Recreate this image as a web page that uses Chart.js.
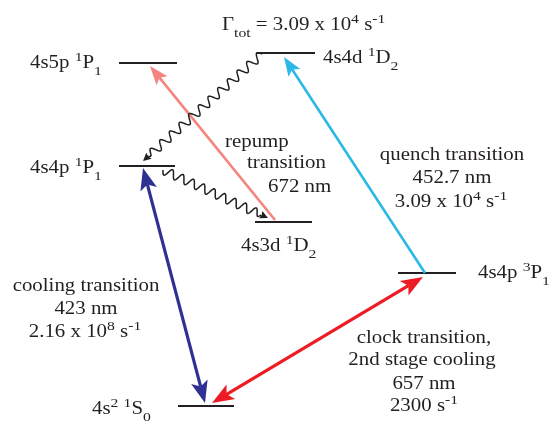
<!DOCTYPE html>
<html><head><meta charset="utf-8">
<script src="https://cdn.jsdelivr.net/npm/chart.js@4.4.0/dist/chart.umd.min.js"></script>
<style>html,body{margin:0;padding:0;background:#fff;overflow:hidden}#wrap{width:554px;height:423px;}</style>
</head><body><div id="wrap"><canvas id="c" width="554" height="423"></canvas></div>
<script>
// Energy levels (diagram units: x across, y down)
const levelNames = ['4s5p 1P1', '4s4d 1D2', '4s4p 1P1', '4s3d 1D2', '4s4p 3P1', '4s2 1S0'];
const levelY = [63, 53, 166, 222, 273, 406];
const levelXStart = [119, 257, 119, 255, 398, 178];
const levelXEnd = [177, 315, 175, 312, 456, 234];

// Laser transitions
const transNames = ['cooling 423 nm', 'clock 657 nm', 'quench 452.7 nm', 'repump 672 nm'];
const transX1 = [143, 212, 425, 275];
const transY1 = [168, 403, 273, 220];
const transX2 = [205, 423, 284, 150];
const transY2 = [403, 277, 57, 66];
const transHeadStart = [true, true, false, false];
const transHeadEnd = [true, true, true, true];
const transColors = ['#2e3192', '#ed1c24', '#2bb8e6', '#f4847e'];

// Spontaneous decays (wavy)
const decayX1 = [262, 163];
const decayY1 = [54, 170];
const decayX2 = [143, 268];
const decayY2 = [161, 218];

// Text labels ({^x} superscript, {_x} subscript)
const labelTexts = [
  '4s5p {^1}P{_1}', '4s4p {^1}P{_1}', '4s4d {^1}D{_2}', '4s3d {^1}D{_2}', '4s4p {^3}P{_1}', '4s{^2} {^1}S{_0}',
  'Γ{_tot} = 3.09 x 10{^4} s{^-1}',
  'repump', 'transition', '672 nm',
  'quench transition', '452.7 nm', '3.09 x 10{^4} s{^-1}',
  'cooling transition', '423 nm', '2.16 x 10{^8} s{^-1}',
  'clock transition,', '2nd stage cooling', '657 nm', '2300 s{^-1}'
];
const labelX = [30, 30, 323, 241, 478, 92, 222, 225, 247, 268, 452, 452, 451, 86, 86, 85, 424, 422, 424, 424];
const labelY = [68, 173, 63, 251, 278, 414, 30, 147, 168, 192, 160, 183, 207, 291, 314, 337, 343, 365, 389, 411];
const labelAlign = ['l','l','l','l','l','l','l','l','l','l','c','c','c','c','c','c','c','c','c','c'];

const FONT = 'Liberation Serif, "Times New Roman", serif';
const FS = 18, SFS = 13.5, SX = 1.16;

function parseRich(s) {
  const segs = []; const re = /\{([\^_])([^}]*)\}|([^{]+)/g; let m;
  while ((m = re.exec(s))) {
    if (m[3]) segs.push({t: m[3], k: ''}); else segs.push({t: m[2], k: m[1]});
  }
  return segs;
}
function richWidth(ctx, segs) {
  let w = 0;
  for (const g of segs) { ctx.font = (g.k ? SFS : FS) + 'px ' + FONT; w += ctx.measureText(g.t).width; }
  return w;
}
function drawRich(ctx, segs, x, y, align) {
  const w = richWidth(ctx, segs);
  ctx.save();
  ctx.translate(x, y);
  ctx.scale(SX, 1);
  let cx = align === 'c' ? -w / 2 : 0;
  ctx.fillStyle = '#231f20';
  ctx.textBaseline = 'alphabetic';
  ctx.textAlign = 'left';
  for (const g of segs) {
    ctx.font = (g.k ? SFS : FS) + 'px ' + FONT;
    const dy = g.k === '^' ? -7 : g.k === '_' ? 7 : 0;
    ctx.fillText(g.t, cx, dy);
    cx += ctx.measureText(g.t).width;
  }
  ctx.restore();
}
function head(ctx, tx, ty, ang, len, hw, notch, color) {
  const dx = Math.cos(ang), dy = Math.sin(ang), px = -dy, py = dx;
  ctx.beginPath();
  ctx.moveTo(tx, ty);
  ctx.lineTo(tx - len * dx + hw * px, ty - len * dy + hw * py);
  ctx.lineTo(tx - (len - notch) * dx, ty - (len - notch) * dy);
  ctx.lineTo(tx - len * dx - hw * px, ty - len * dy - hw * py);
  ctx.closePath();
  ctx.fillStyle = color; ctx.fill();
}

const diagramPlugin = {
  id: 'diagram',
  afterDatasetsDraw(chart) {
    const ctx = chart.ctx, xs = chart.scales.x, ys = chart.scales.y;
    // transitions
    for (let i = 0; i < transNames.length; i++) {
      const x1 = xs.getPixelForValue(transX1[i]), y1 = ys.getPixelForValue(transY1[i]);
      const x2 = xs.getPixelForValue(transX2[i]), y2 = ys.getPixelForValue(transY2[i]);
      const ang = Math.atan2(y2 - y1, x2 - x1), L = Math.hypot(x2 - x1, y2 - y1);
      const big = i < 2;
      const len = big ? 22 : 19, hw = big ? 8.5 : 7, notch = big ? 5 : 4;
      const s0 = transHeadStart[i] ? len - notch : 0, s1 = transHeadEnd[i] ? L - (len - notch) : L;
      const c = Math.cos(ang), s = Math.sin(ang);
      ctx.save();
      ctx.strokeStyle = transColors[i];
      ctx.lineWidth = big ? 3.2 : 2.6;
      ctx.beginPath();
      ctx.moveTo(x1 + s0 * c, y1 + s0 * s);
      ctx.lineTo(x1 + s1 * c, y1 + s1 * s);
      ctx.stroke();
      if (transHeadEnd[i]) head(ctx, x2, y2, ang, len, hw, notch, transColors[i]);
      if (transHeadStart[i]) head(ctx, x1, y1, ang + Math.PI, len, hw, notch, transColors[i]);
      ctx.restore();
    }
    // decays
    for (let i = 0; i < decayX1.length; i++) {
      const x1 = xs.getPixelForValue(decayX1[i]), y1 = ys.getPixelForValue(decayY1[i]);
      const x2 = xs.getPixelForValue(decayX2[i]), y2 = ys.getPixelForValue(decayY2[i]);
      const ang = Math.atan2(y2 - y1, x2 - x1), L = Math.hypot(x2 - x1, y2 - y1);
      const c = Math.cos(ang), s = Math.sin(ang), px = -s, py = c;
      const hl = 8, wl = i === 0 ? 13 : 11.5, A = 4.3;
      const Lw = L - hl + 1;
      ctx.save();
      ctx.strokeStyle = '#231f20'; ctx.lineWidth = 1.5; ctx.lineJoin = 'round';
      ctx.beginPath();
      for (let t = 0; t <= Lw; t += 0.5) {
        const env = Math.min(1, (Lw - t) / 4);
        const o = A * Math.sin(2 * Math.PI * t / wl) * env;
        const X = x1 + t * c + o * px, Y = y1 + t * s + o * py;
        if (t === 0) ctx.moveTo(X, Y); else ctx.lineTo(X, Y);
      }
      ctx.stroke();
      head(ctx, x2, y2, ang, hl, 4, 1, '#231f20');
      ctx.restore();
    }
    // labels
    for (let i = 0; i < labelTexts.length; i++) {
      drawRich(ctx, parseRich(labelTexts[i]), xs.getPixelForValue(labelX[i]), ys.getPixelForValue(labelY[i]), labelAlign[i]);
    }
  }
};

const datasets = levelNames.map((n, i) => ({
  label: n,
  data: [{x: levelXStart[i], y: levelY[i]}, {x: levelXEnd[i], y: levelY[i]}],
  showLine: true, borderColor: '#231f20', borderWidth: 2, pointRadius: 0, fill: false
}));

new Chart(document.getElementById('c'), {
  type: 'scatter',
  data: {datasets},
  options: {
    responsive: false, animation: false, devicePixelRatio: 1,
    layout: {padding: 0},
    plugins: {legend: {display: false}, tooltip: {enabled: false}},
    scales: {
      x: {type: 'linear', min: 0, max: 554, display: false},
      y: {type: 'linear', min: 0, max: 423, reverse: true, display: false}
    }
  },
  plugins: [diagramPlugin]
});
</script></body></html>
